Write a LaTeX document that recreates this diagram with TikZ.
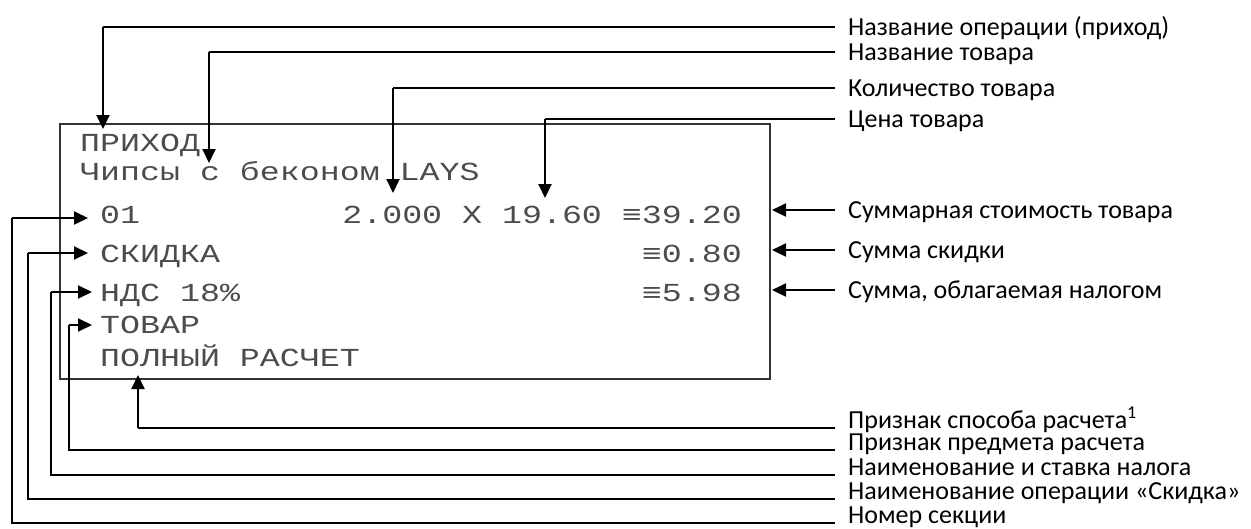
\documentclass[tikz,border=0pt]{standalone}
\usepackage{fontspec}
\setmainfont{Carlito}
\newfontfamily\rcptfont[FakeStretch=1.28]{Liberation Mono}
\usetikzlibrary{arrows.meta}

\begin{document}
\begin{tikzpicture}[x=1pt, y=-1pt,
    lbl/.style={anchor=west, inner xsep=13pt, inner ysep=0pt, text height=17pt, text depth=0pt, font=\fontsize{26}{28}\selectfont},
    lblb/.style={lbl, anchor=base west},
    rcpt/.style={anchor=base west, inner sep=0pt, text=black!70, font=\rcptfont\fontsize{26}{30}\selectfont},
    rcptr/.style={rcpt, anchor=base east},
    box/.style={draw=black!80, line width=1.5pt, inner sep=0pt, anchor=north west},
    lead/.style={line width=1.2pt},
    arr/.style={line width=2pt, -{Triangle[length=14pt, width=13pt]}}]

    \useasboundingbox (0,0) rectangle (1251,528);

    \node [box, minimum width=710pt, minimum height=255pt] (receipt) at (59,123) {};

    \node [rcpt] (prihod) at (80,151) {ПРИХОД};
    \node [rcpt] (chips) at (80,180) {Чипсы с беконом LAYS};
    \node [rcpt] (sec) at (100,223) {01};
    \node [rcptr] (total) at (742,223) {2.000 X 19.60 ≡39.20};
    \node [rcpt] (disc) at (100,262) {СКИДКА};
    \node [rcptr] (discsum) at (742,262) {≡0.80};
    \node [rcpt] (vat) at (100,301) {НДС 18\%};
    \node [rcptr] (vatsum) at (742,301) {≡5.98};
    \node [rcpt] (item) at (100,333) {ТОВАР};
    \node [rcpt] (full) at (100,366) {ПОЛНЫЙ РАСЧЕТ};

    \node [lbl] (lop) at (835,27) {Название операции (приход)};
    \node [lbl] (lname) at (835,52) {Название товара};
    \node [lbl] (lqty) at (835,88) {Количество товара};
    \node [lbl] (lprice) at (835,119) {Цена товара};
    \node [lbl] (ltotal) at (835,210) {Суммарная стоимость товара};
    \node [lbl] (ldisc) at (835,250) {Сумма скидки};
    \node [lbl] (ltax) at (835,290) {Сумма, облагаемая налогом};
    \node [lblb] (lpay) at (835,428) {Признак способа расчета\textsuperscript{1}};
    \node [lblb] (lsubj) at (835,450) {Признак предмета расчета};
    \node [lblb] (lvat) at (835,475) {Наименование и ставка налога};
    \node [lblb] (ldname) at (835,499) {Наименование операции «Скидка»};
    \node [lblb] (lsec) at (835,523) {Номер секции};

    \coordinate (c1) at (103,27);   \coordinate (t1) at (103,129);
    \coordinate (c2) at (209,52);   \coordinate (t2) at (209,163);
    \coordinate (c3) at (393,88);   \coordinate (t3) at (393,193);
    \coordinate (c4) at (545,119);  \coordinate (t4) at (545,198);
    \coordinate (t5) at (772,210);
    \coordinate (t6) at (772,250);
    \coordinate (t7) at (772,290);
    \coordinate (c8) at (138,428);  \coordinate (t8) at (138,375);
    \coordinate (c9) at (69,325);   \coordinate (t9) at (92,325);
    \coordinate (c10) at (51,292);  \coordinate (t10) at (92,292);
    \coordinate (c11) at (28,253);  \coordinate (t11) at (88,253);
    \coordinate (c12) at (12,218);  \coordinate (t12) at (88,218);

    \draw [lead] (lop.west) -- (c1);
    \draw [arr] (c1) -- (t1);
    \draw [lead] (lname.west) -- (c2);
    \draw [arr] (c2) -- (t2);
    \draw [lead] (lqty.west) -- (c3);
    \draw [arr] (c3) -- (t3);
    \draw [lead] (lprice.west) -- (c4);
    \draw [arr] (c4) -- (t4);

    \draw [arr] (ltotal.west) -- (t5);
    \draw [arr] (ldisc.west) -- (t6);
    \draw [arr] (ltax.west) -- (t7);

    \draw [lead] (lpay.base west) -- (c8);
    \draw [arr] (c8) -- (t8);
    \draw [lead] (lsubj.base west) -| (c9);
    \draw [arr] (c9) -- (t9);
    \draw [lead] (lvat.base west) -| (c10);
    \draw [arr] (c10) -- (t10);
    \draw [lead] (ldname.base west) -| (c11);
    \draw [arr] (c11) -- (t11);
    \draw [lead] (lsec.base west) -| (c12);
    \draw [arr] (c12) -- (t12);
\end{tikzpicture}
\end{document}
